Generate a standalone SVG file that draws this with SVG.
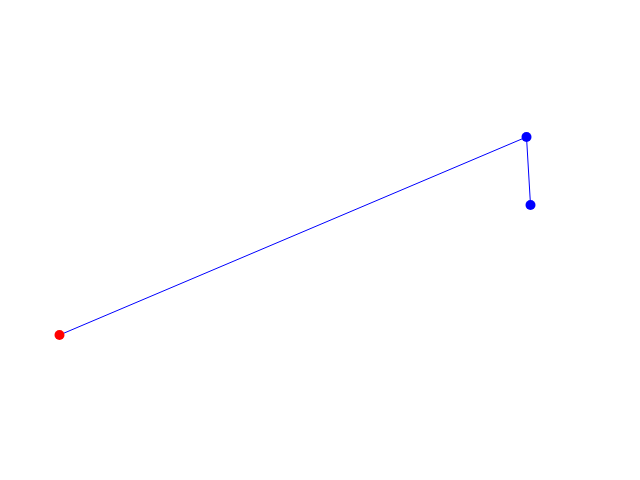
<svg xmlns="http://www.w3.org/2000/svg" width="640" height="480" viewBox="0 0 640 480">
<style>
.edge{stroke:#0000ff;stroke-width:1;fill:none}
.blue{fill:#0000ff}
.red{fill:#ff0000}
</style>
<rect width="640" height="480" fill="#ffffff"/>
<g id="connectors">
<line class="edge" x1="59.5" y1="335" x2="526.5" y2="137"/>
<line class="edge" x1="526.5" y1="137" x2="530.5" y2="205"/>
</g>
<g id="node-a"><circle class="red" cx="59.5" cy="335" r="5"/></g>
<g id="node-b"><circle class="blue" cx="526.5" cy="137" r="5"/></g>
<g id="node-c"><circle class="blue" cx="530.5" cy="205" r="5"/></g>
</svg>
